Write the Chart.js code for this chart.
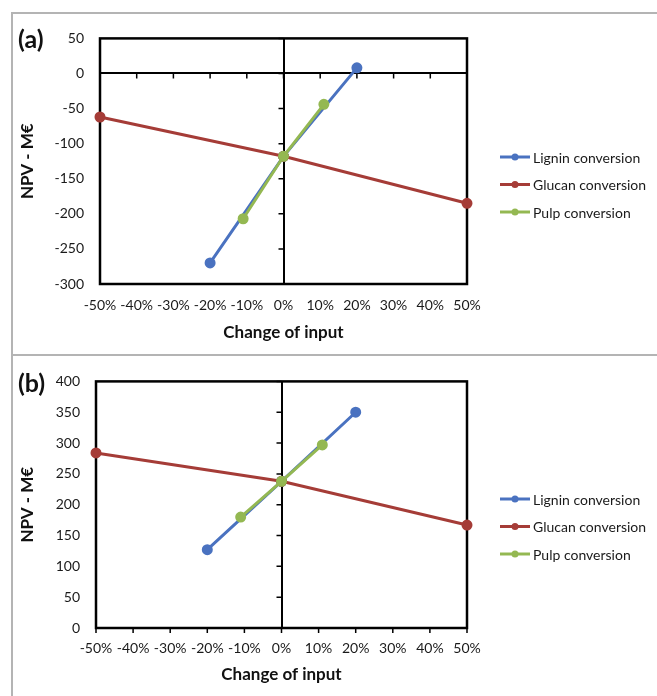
<!DOCTYPE html>
<html>
<head>
<meta charset="utf-8">
<script src="https://cdn.jsdelivr.net/npm/chart.js@4"></script>
<style>
  body { margin: 0; background: #fff; font-family: Lato, sans-serif; }
  #page { position: relative; width: 657px; height: 696px; overflow: hidden; }
  .frame { position: absolute; left: 11px; top: 12px; width: 646px; height: 684px;
           border-top: 2px solid #b4b4b4; border-left: 2px solid #b4b4b4; box-sizing: border-box; }
  .sep { position: absolute; left: 11px; top: 354px; width: 646px; border-top: 2px solid #b4b4b4; }
  .panel { position: absolute; left: 13px; }
  .tag { position: absolute; left: 18px; font: bold 25px Lato, sans-serif; color: #111; }
</style>
</head>
<body>
<div id="page">
  <div class="frame"></div>
  <div class="sep"></div>
  <div class="panel" style="top:14px"><canvas id="chartA" width="644" height="341"></canvas></div>
  <div class="panel" style="top:357px"><canvas id="chartB" width="644" height="339"></canvas></div>
  <div class="tag" style="top:23px">(a)</div>
  <div class="tag" style="top:367px">(b)</div>
</div>
<script>
// values (x = change of input in %)
const seriesNames = ['Lignin conversion', 'Glucan conversion', 'Pulp conversion'];
const xLignin = [-20, 0, 20];
const xGlucan = [-50, 0, 50];
const xPulp = [-11, 0, 11];

const aLignin = [-270, -118, 8];
const aGlucan = [-62, -118, -185];
const aPulp = [-207, -118, -44];

const bLignin = [127, 238, 350];
const bGlucan = [284, 238, 167];
const bPulp = [180, 238, 297];

const colors = ['#4a72c0', '#a53c37', '#94b852'];

function pts(xs, ys) {
  return xs.map((x, i) => ({ x: x, y: ys[i] }));
}

// box round the plot plus small tick marks on the zero axes
const frameTicks = {
  id: 'frameTicks',
  beforeDatasetsDraw(chart) {
    const { ctx, chartArea: a, scales: { x, y } } = chart;
    const x0 = x.getPixelForValue(0);
    const y0 = y.getPixelForValue(0);
    ctx.save();
    ctx.strokeStyle = '#000';
    ctx.lineWidth = 1.5;
    ctx.beginPath();
    x.ticks.forEach(t => {
      const px = x.getPixelForValue(t.value);
      ctx.moveTo(px, y0); ctx.lineTo(px, y0 + 5);
    });
    y.ticks.forEach(t => {
      const py = y.getPixelForValue(t.value);
      ctx.moveTo(x0 - 5, py); ctx.lineTo(x0, py);
    });
    ctx.stroke();
    ctx.lineWidth = 2.5;
    ctx.strokeRect(a.left, a.top, a.right - a.left, a.bottom - a.top);
    ctx.restore();
  }
};

// Excel-style legend on the right: short line with a dot, then the name
const sideLegend = {
  id: 'sideLegend',
  afterDraw(chart) {
    const { ctx, chartArea: a } = chart;
    const x0 = a.right + 33;
    const mid = chart.height / 2;
    ctx.save();
    ctx.font = '14px Lato';
    ctx.textBaseline = 'middle';
    chart.data.datasets.forEach((ds, i) => {
      const yy = mid + (i - 1) * 27.5;
      ctx.strokeStyle = ds.borderColor;
      ctx.fillStyle = ds.borderColor;
      ctx.lineWidth = 3;
      ctx.beginPath(); ctx.moveTo(x0, yy); ctx.lineTo(x0 + 30, yy); ctx.stroke();
      ctx.beginPath(); ctx.arc(x0 + 15, yy, 3.5, 0, Math.PI * 2); ctx.fill();
      ctx.fillStyle = '#1a1a1a';
      ctx.fillText(ds.label, x0 + 33, yy + 1);
    });
    ctx.restore();
  }
};

function makeChart(id, vals, yMin, yMax, yWidth, xHeight, xTickPad, xTitlePad) {
  const data = [pts(xLignin, vals[0]), pts(xGlucan, vals[1]), pts(xPulp, vals[2])];
  return new Chart(document.getElementById(id), {
    type: 'line',
    data: {
      datasets: data.map((d, i) => ({
        label: seriesNames[i],
        data: d,
        borderColor: colors[i],
        backgroundColor: colors[i],
        borderWidth: 3,
        pointRadius: 4,
        pointHoverRadius: 4,
        order: 2 - i,   // pulp on top, lignin underneath
        clip: false
      }))
    },
    options: {
      responsive: false,
      animation: false,
      devicePixelRatio: 1,
      layout: { padding: { top: 15, left: 0, bottom: 0, right: 190 } },
      scales: {
        x: {
          type: 'linear', min: -50, max: 50,
          ticks: { stepSize: 10, padding: xTickPad, color: '#1a1a1a', font: { family: 'Lato', size: 14 },
                   callback: v => v + '%', maxRotation: 0, autoSkip: false },
          grid: { drawTicks: false, lineWidth: 2, color: c => c.tick && c.tick.value === 0 ? '#000' : 'rgba(0,0,0,0)' },
          border: { display: false },
          title: { display: true, text: 'Change of input', color: '#111',
                   font: { family: 'Lato', size: 17, weight: 'bold' }, padding: { top: 0, bottom: xTitlePad } },
          afterFit: s => { s.height = xHeight; }
        },
        y: {
          min: yMin, max: yMax,
          ticks: { stepSize: 50, padding: 16, color: '#1a1a1a', font: { family: 'Lato', size: 14 } },
          grid: { drawTicks: false, lineWidth: 2, color: c => c.tick && c.tick.value === 0 ? '#000' : 'rgba(0,0,0,0)' },
          border: { display: false },
          title: { display: true, text: 'NPV - M€', color: '#111',
                   font: { family: 'Lato', size: 17, weight: 'bold' }, padding: { top: 4, bottom: 0 } },
          afterFit: s => { s.width = yWidth; }
        }
      },
      plugins: {
        tooltip: { enabled: false },
        legend: { display: false }
      }
    },
    plugins: [frameTicks, sideLegend]
  });
}

makeChart('chartA', [aLignin, aGlucan, aPulp], -300, 50, 87, 71, 13, 12);
makeChart('chartB', [bLignin, bGlucan, bPulp], 0, 400, 83, 68, 12, 11);
</script>
</body>
</html>
